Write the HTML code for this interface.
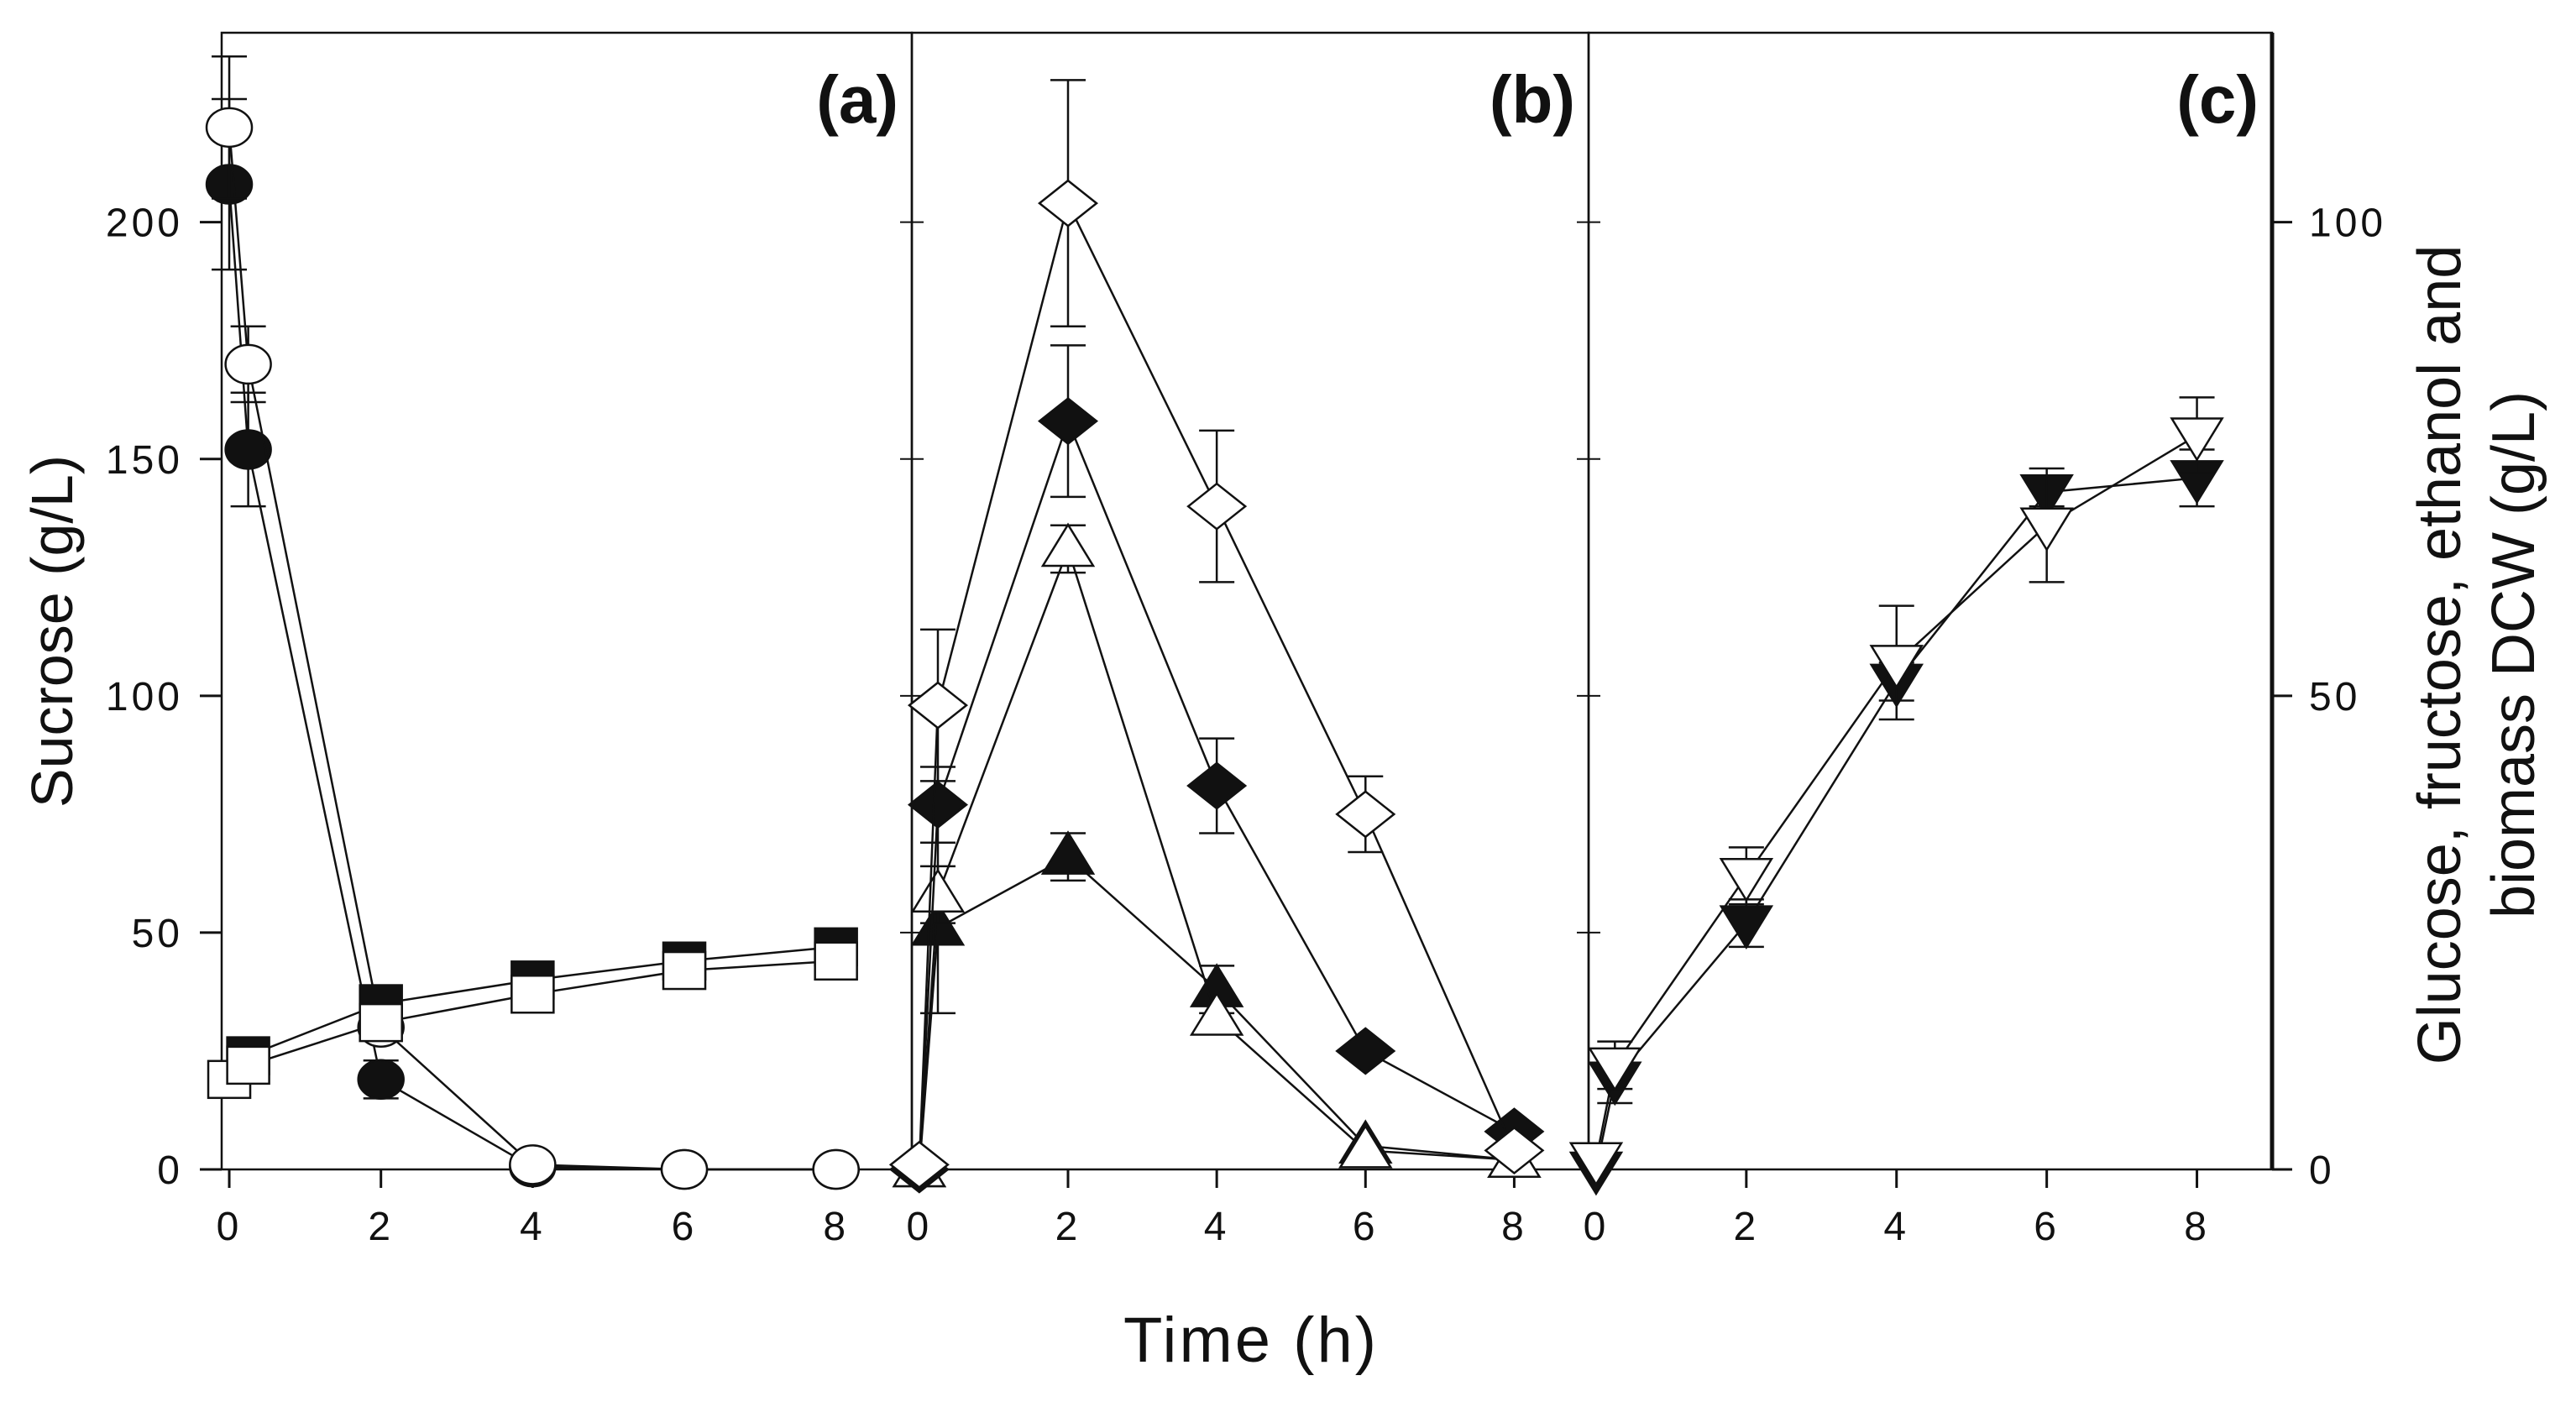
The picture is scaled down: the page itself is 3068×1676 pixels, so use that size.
<!DOCTYPE html>
<html><head><meta charset="utf-8">
<style>
html,body{margin:0;padding:0;background:#fff;}
svg{display:block;}
text{font-family:"Liberation Sans",Arial,sans-serif;fill:#111;}
</style></head>
<body>
<svg id="chart" width="3068" height="1676" viewBox="0 0 3068 1676" xmlns="http://www.w3.org/2000/svg"></svg>
<script>
// ---- data ----
const timeA = [0, 0.25, 2, 4, 6, 8];
const sucroseOpen = [220, 170, 30, 1, 0, 0];
const sucroseOpenErr = [15, 8, 0, 0, 0, 0];
const sucroseFilled = [208, 152, 19, 0.5, 0, 0];
const sucroseFilledErr = [18, 12, 4, 0, 0, 0];
const timeSq = [0, 0.25, 2, 4, 6, 8];
const squareFilled = [null, 24, 35, 40, 44, 47];
const squareOpen = [19, 22, 31, 37, 42, 44];

const timeB = [0, 0.25, 2, 4, 6, 8];
const diamondOpen = [0.5, 49, 102, 70, 37.5, 2];
const diamondOpenErr = [0, 8, 13, 8, 4, 0];
const diamondFilled = [0, 38.5, 79, 40.5, 12.5, 4];
const diamondFilledErr = [0, 4, 8, 5, 0, 0];
const triOpen = [0, 29, 65.5, 16, 2, 1];
const triOpenErr = [0, 3, 2.5, 0, 0, 0];
const triFilled = [0, 25.5, 33, 19, 2.5, 1];
const triFilledErr = [0, 9, 2.5, 2.5, 0, 0];

const timeC = [0, 0.25, 2, 4, 6, 8];
const downFilled = [0, 9.5, 26, 51.5, 71.5, 73];
const downFilledErr = [0, 2.5, 2.5, 2, 1.5, 3];
const downOpen = [1, 11, 31, 53.5, 68, 77.5];
const downOpenErr = [0, 2.5, 3, 6, 6, 4];

const xTicks = [0, 2, 4, 6, 8];
const leftTicks = [0, 50, 100, 150, 200];
const rightTicks = [0, 50, 100];

// ---- layout ----
const svg = document.getElementById('chart');
const NS = 'http://www.w3.org/2000/svg';
const TOP = 39, BOT = 1393;
const panels = [[264, 1086], [1086, 1892], [1892, 2706]];
const XMIN = -0.1, XMAX = 9.0;
function xs(p, t) { const [a, b] = panels[p]; return a + (t - XMIN) / (XMAX - XMIN) * (b - a); }
function yL(v) { return BOT - v / 240 * (BOT - TOP); }
function yR(v) { return BOT - v / 120 * (BOT - TOP); }

function el(tag, attrs, parent) {
  const e = document.createElementNS(NS, tag);
  for (const k in attrs) e.setAttribute(k, attrs[k]);
  (parent || svg).appendChild(e);
  return e;
}
function txt(s, attrs) { const e = el('text', attrs); e.textContent = s; return e; }

// frames
panels.forEach(([a, b], i) => {
  const r = el('rect', {x: a, y: TOP, width: b - a, height: BOT - TOP, fill: 'none', stroke: '#111', 'stroke-width': 2.5});
  
  
  xTicks.forEach(t => {
    const x = xs(i, t);
    const tk = el('line', {x1: x, x2: x, y1: BOT, y2: BOT + 22, stroke: '#111', 'stroke-width': 3});
    
    
    const lb = txt(String(t), {x: x, y: BOT + 84, 'font-size': 48, 'text-anchor': 'middle', 'letter-spacing': 4});
    
    
  });
  const pl = txt('(' + 'abc'[i] + ')', {x: b - 16, y: 146, 'font-size': 80, 'font-weight': 'bold', 'text-anchor': 'end'});
  
  
});
// left ticks
leftTicks.forEach(v => {
  const y = yL(v);
  const t = el('line', {x1: 238, x2: 264, y1: y, y2: y, stroke: '#111', 'stroke-width': 3});
  
  
  const l = txt(String(v), {x: 218, y: y + 17, 'font-size': 48, 'text-anchor': 'end', 'letter-spacing': 4});
  
  
  [1086, 1892].forEach(bx => {
    if (v === 0) return;
    const it = el('line', {x1: bx - 14, x2: bx + 14, y1: y, y2: y, stroke: '#111', 'stroke-width': 2});
    
    
  });
});
// right ticks
el('line', {x1: 2706, x2: 2706, y1: TOP, y2: BOT, stroke: '#111', 'stroke-width': 5});
rightTicks.forEach(v => {
  const y = yR(v);
  const t = el('line', {x1: 2706, x2: 2730, y1: y, y2: y, stroke: '#111', 'stroke-width': 3});
  
  
  const l = txt(String(v), {x: 2750, y: y + 17, 'font-size': 48, 'letter-spacing': 4});
  
  
});
// axis titles
let t1 = txt('Sucrose (g/L)', {x: 0, y: 0, 'font-size': 70, 'text-anchor': 'middle', transform: 'translate(86,752) rotate(-90)'});


let t2 = txt('Glucose, fructose, ethanol and', {x: 0, y: 0, 'font-size': 72, 'text-anchor': 'middle', transform: 'translate(2930,780) rotate(-90)'});


let t3 = txt('biomass DCW (g/L)', {x: 0, y: 0, 'font-size': 72, 'text-anchor': 'middle', transform: 'translate(3018,780) rotate(-90)'});


let t4 = txt('Time (h)', {x: 1490, y: 1622, 'font-size': 76, 'text-anchor': 'middle', 'letter-spacing': 3});



// series drawing
function marker(shape, x, y, fill, g) {
  const a = {fill: fill ? '#111' : '#fff', stroke: '#111', 'stroke-width': 2.5};
  if (shape === 'circle') return el('ellipse', Object.assign({cx: x, cy: y, rx: 27, ry: 23}, a), g);
  if (shape === 'square') return el('rect', Object.assign({x: x - 25, y: y - 22, width: 50, height: 44}, a), g);
  if (shape === 'diamond') return el('polygon', Object.assign({points: `${x-34},${y} ${x},${y-27} ${x+34},${y} ${x},${y+27}`}, a), g);
  if (shape === 'up') return el('polygon', Object.assign({points: `${x-30},${y+20} ${x+30},${y+20} ${x},${y-29}`}, a), g);
  if (shape === 'down') return el('polygon', Object.assign({points: `${x-30},${y-20} ${x+30},${y-20} ${x},${y+29}`}, a), g);
}
function series(name, p, times, vals, errs, yfn, shape, fill) {
  const g = el('g', {});
  
  
  const pts = [];
  times.forEach((t, i) => { if (vals[i] !== null) pts.push([xs(p, t), yfn(vals[i]), i]); });
  el('polyline', {points: pts.map(q => q[0] + ',' + q[1]).join(' '), fill: 'none', stroke: '#111', 'stroke-width': 2.5}, g);
  if (errs) pts.forEach(([x, y, i]) => {
    if (!errs[i]) return;
    const y1 = yfn(vals[i] + errs[i]), y2 = yfn(vals[i] - errs[i]);
    el('line', {x1: x, x2: x, y1: y1, y2: y2, stroke: '#111', 'stroke-width': 2.5}, g);
    el('line', {x1: x - 21, x2: x + 21, y1: y1, y2: y1, stroke: '#111', 'stroke-width': 2.5}, g);
    el('line', {x1: x - 21, x2: x + 21, y1: y2, y2: y2, stroke: '#111', 'stroke-width': 2.5}, g);
  });
  pts.forEach(([x, y]) => {
    const m = marker(shape, x, y, fill, g);
    
    
  });
}
series('sucrose-filled-circle', 0, timeA, sucroseFilled, sucroseFilledErr, yL, 'circle', true);
series('sucrose-open-circle', 0, timeA, sucroseOpen, sucroseOpenErr, yL, 'circle', false);
series('filled-square-series', 0, timeSq, squareFilled, null, yL, 'square', true);
series('open-square-series', 0, timeSq, squareOpen, null, yL, 'square', false);

series('filled-triangle-series', 1, timeB, triFilled, triFilledErr, yR, 'up', true);
series('open-triangle-series', 1, timeB, triOpen, triOpenErr, yR, 'up', false);
series('filled-diamond-series', 1, timeB, diamondFilled, diamondFilledErr, yR, 'diamond', true);
series('open-diamond-series', 1, timeB, diamondOpen, diamondOpenErr, yR, 'diamond', false);

series('filled-down-triangle-series', 2, timeC, downFilled, downFilledErr, yR, 'down', true);
series('open-down-triangle-series', 2, timeC, downOpen, downOpenErr, yR, 'down', false);
</script>
</body></html>
